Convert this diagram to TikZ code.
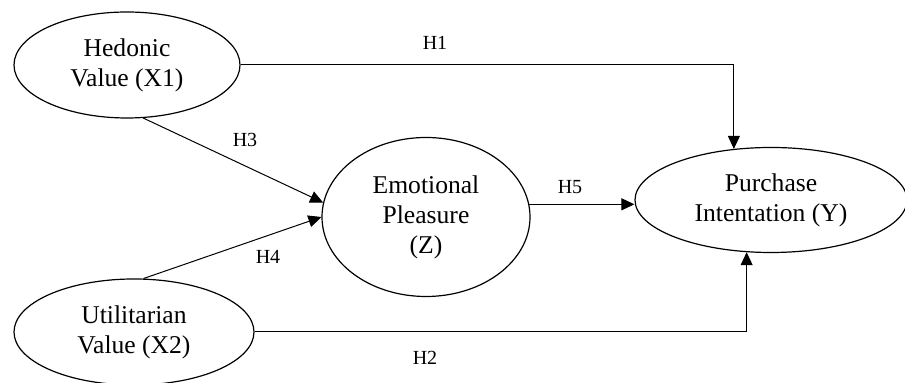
\documentclass[tikz,border=0pt]{standalone}
\usepackage{fontspec}
\setmainfont{Liberation Serif}
\usetikzlibrary{shapes.geometric,arrows.meta}

\begin{document}
\begin{tikzpicture}[x=0.5pt, y=-0.5pt,
    construct/.style={draw, ellipse, line width=0.6pt, inner sep=0pt, align=center,
                      font=\fontsize{12.8}{15}\selectfont},
    hyp/.style={font=\fontsize{10}{12}\selectfont},
    path/.style={line width=0.5pt, -{Triangle[length=6.5pt,width=6pt]}}]
  \useasboundingbox (0,0) rectangle (905,383);
  \node[construct, minimum width=113pt, minimum height=53pt]
      (hed) at (127,65)  {Hedonic\\Value (X1)};
  \node[construct, minimum width=104pt, minimum height=79.5pt]
      (emo) at (426,217) {Emotional\\Pleasure\\(Z)};
  \node[construct, minimum width=136pt, minimum height=52.5pt]
      (pur) at (771,200) {Purchase\\Intentation (Y)};
  \node[construct, minimum width=120pt, minimum height=53pt]
      (uti) at (134,332) {Utilitarian\\Value (X2)};
  % hypothesis paths
  \draw[path] (hed.east) -| (pur.126);
  \draw[path] (uti.east) -| (pur.245);
  \draw[path] (hed.287)  -- (emo.172);
  \draw[path] (uti.80)   -- (emo.west);
  \draw[path] (emo.7)    -- (emo.7 -| pur.west);
  \node[hyp] (h1) at (435,43)  {H1};
  \node[hyp] (h2) at (425,358) {H2};
  \node[hyp] (h3) at (245,140) {H3};
  \node[hyp] (h4) at (268,257) {H4};
  \node[hyp] (h5) at (570,187) {H5};
\end{tikzpicture}
\end{document}
